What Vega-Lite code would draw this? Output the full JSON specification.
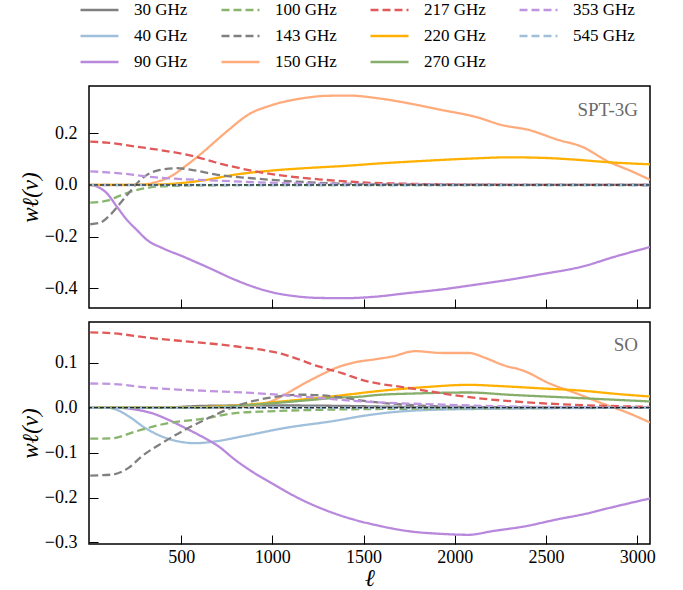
{
  "$schema": "https://vega.github.io/schema/vega-lite/v6.json",
  "padding": {"left": 18, "top": -2, "right": 5, "bottom": 5},
  "spacing": 11,
  "config": {
    "font": "Liberation Serif",
    "view": {"stroke": "black", "strokeWidth": 1.5},
    "axis": {"domain": false, "grid": false, "tickColor": "black", "tickSize": -9, "tickWidth": 1, "labelFont": "Liberation Serif", "labelFontSize": 18, "labelColor": "black", "labelFlush": false, "titleFont": "Liberation Serif", "titleFontWeight": "normal", "titleFontStyle": "italic", "titleColor": "black"},
    "legend": {"labelFont": "Liberation Serif"},
    "text": {"font": "Liberation Serif"}
  },
  "datasets": {
    "spt": [
      {"f":"90 GHz","l":2,"w":0},{"f":"90 GHz","l":38,"w":-0.006},{"f":"90 GHz","l":93,"w":-0.032},{"f":"90 GHz","l":148,"w":-0.084},{"f":"90 GHz","l":203,"w":-0.135},{"f":"90 GHz","l":257,"w":-0.174},{"f":"90 GHz","l":312,"w":-0.212},{"f":"90 GHz","l":400,"w":-0.245},{"f":"90 GHz","l":504,"w":-0.275},{"f":"90 GHz","l":650,"w":-0.32},{"f":"90 GHz","l":796,"w":-0.367},{"f":"90 GHz","l":900,"w":-0.395},{"f":"90 GHz","l":997,"w":-0.415},{"f":"90 GHz","l":1100,"w":-0.428},{"f":"90 GHz","l":1253,"w":-0.437},{"f":"90 GHz","l":1400,"w":-0.438},{"f":"90 GHz","l":1550,"w":-0.433},{"f":"90 GHz","l":1747,"w":-0.418},{"f":"90 GHz","l":1929,"w":-0.404},{"f":"90 GHz","l":2112,"w":-0.386},{"f":"90 GHz","l":2295,"w":-0.367},{"f":"90 GHz","l":2478,"w":-0.345},{"f":"90 GHz","l":2697,"w":-0.316},{"f":"90 GHz","l":2880,"w":-0.277},{"f":"90 GHz","l":3070,"w":-0.240},
      {"f":"150 GHz","l":2,"w":0},{"f":"150 GHz","l":200,"w":0},{"f":"150 GHz","l":300,"w":0.002},{"f":"150 GHz","l":349,"w":0.009},{"f":"150 GHz","l":440,"w":0.032},{"f":"150 GHz","l":531,"w":0.077},{"f":"150 GHz","l":623,"w":0.129},{"f":"150 GHz","l":686,"w":0.168},{"f":"150 GHz","l":760,"w":0.213},{"f":"150 GHz","l":870,"w":0.273},{"f":"150 GHz","l":997,"w":0.309},{"f":"150 GHz","l":1161,"w":0.335},{"f":"150 GHz","l":1300,"w":0.345},{"f":"150 GHz","l":1420,"w":0.346},{"f":"150 GHz","l":1564,"w":0.337},{"f":"150 GHz","l":1747,"w":0.316},{"f":"150 GHz","l":1929,"w":0.290},{"f":"150 GHz","l":2112,"w":0.264},{"f":"150 GHz","l":2258,"w":0.232},{"f":"150 GHz","l":2405,"w":0.213},{"f":"150 GHz","l":2569,"w":0.174},{"f":"150 GHz","l":2697,"w":0.148},{"f":"150 GHz","l":2843,"w":0.090},{"f":"150 GHz","l":2953,"w":0.058},{"f":"150 GHz","l":3070,"w":0.020},
      {"f":"220 GHz","l":2,"w":0},{"f":"220 GHz","l":300,"w":0.001},{"f":"220 GHz","l":440,"w":0.004},{"f":"220 GHz","l":613,"w":0.017},{"f":"220 GHz","l":796,"w":0.040},{"f":"220 GHz","l":1000,"w":0.056},{"f":"220 GHz","l":1200,"w":0.066},{"f":"220 GHz","l":1400,"w":0.074},{"f":"220 GHz","l":1600,"w":0.084},{"f":"220 GHz","l":1747,"w":0.090},{"f":"220 GHz","l":1929,"w":0.097},{"f":"220 GHz","l":2112,"w":0.103},{"f":"220 GHz","l":2295,"w":0.107},{"f":"220 GHz","l":2478,"w":0.105},{"f":"220 GHz","l":2660,"w":0.098},{"f":"220 GHz","l":2843,"w":0.088},{"f":"220 GHz","l":3070,"w":0.080},
      {"f":"100 GHz","l":2,"w":-0.068},{"f":"100 GHz","l":93,"w":-0.061},{"f":"100 GHz","l":166,"w":-0.041},{"f":"100 GHz","l":239,"w":-0.023},{"f":"100 GHz","l":330,"w":-0.009},{"f":"100 GHz","l":440,"w":-0.004},{"f":"100 GHz","l":700,"w":-0.001},{"f":"100 GHz","l":3070,"w":0},
      {"f":"143 GHz","l":2,"w":-0.152},{"f":"143 GHz","l":56,"w":-0.146},{"f":"143 GHz","l":111,"w":-0.116},{"f":"143 GHz","l":166,"w":-0.071},{"f":"143 GHz","l":212,"w":-0.032},{"f":"143 GHz","l":257,"w":0.006},{"f":"143 GHz","l":312,"w":0.039},{"f":"143 GHz","l":385,"w":0.058},{"f":"143 GHz","l":476,"w":0.065},{"f":"143 GHz","l":586,"w":0.055},{"f":"143 GHz","l":686,"w":0.041},{"f":"143 GHz","l":888,"w":0.026},{"f":"143 GHz","l":1070,"w":0.016},{"f":"143 GHz","l":1344,"w":0.006},{"f":"143 GHz","l":1700,"w":0.002},{"f":"143 GHz","l":3070,"w":0},
      {"f":"217 GHz","l":2,"w":0.168},{"f":"217 GHz","l":93,"w":0.164},{"f":"217 GHz","l":257,"w":0.148},{"f":"217 GHz","l":440,"w":0.129},{"f":"217 GHz","l":560,"w":0.113},{"f":"217 GHz","l":686,"w":0.088},{"f":"217 GHz","l":888,"w":0.055},{"f":"217 GHz","l":1070,"w":0.035},{"f":"217 GHz","l":1253,"w":0.022},{"f":"217 GHz","l":1491,"w":0.010},{"f":"217 GHz","l":1800,"w":0.004},{"f":"217 GHz","l":2200,"w":0.001},{"f":"217 GHz","l":3070,"w":0},
      {"f":"353 GHz","l":2,"w":0.053},{"f":"353 GHz","l":166,"w":0.045},{"f":"353 GHz","l":349,"w":0.030},{"f":"353 GHz","l":531,"w":0.022},{"f":"353 GHz","l":686,"w":0.017},{"f":"353 GHz","l":979,"w":0.009},{"f":"353 GHz","l":1300,"w":0.004},{"f":"353 GHz","l":1800,"w":0.001},{"f":"353 GHz","l":3070,"w":0},
      {"f":"545 GHz","l":2,"w":0},{"f":"545 GHz","l":3070,"w":0}
    ],
    "so": [
      {"f":"30 GHz","l":2,"w":0},{"f":"30 GHz","l":350,"w":0},{"f":"30 GHz","l":450,"w":0.001},{"f":"30 GHz","l":600,"w":0.004},{"f":"30 GHz","l":800,"w":0.005},{"f":"30 GHz","l":1100,"w":0.005},{"f":"30 GHz","l":1400,"w":0.004},{"f":"30 GHz","l":1700,"w":0.002},{"f":"30 GHz","l":2000,"w":0.001},{"f":"30 GHz","l":3070,"w":0},
      {"f":"40 GHz","l":2,"w":0},{"f":"40 GHz","l":100,"w":0},{"f":"40 GHz","l":150,"w":-0.005},{"f":"40 GHz","l":212,"w":-0.019},{"f":"40 GHz","l":303,"w":-0.045},{"f":"40 GHz","l":394,"w":-0.064},{"f":"40 GHz","l":486,"w":-0.075},{"f":"40 GHz","l":577,"w":-0.079},{"f":"40 GHz","l":686,"w":-0.075},{"f":"40 GHz","l":833,"w":-0.064},{"f":"40 GHz","l":1070,"w":-0.045},{"f":"40 GHz","l":1344,"w":-0.029},{"f":"40 GHz","l":1500,"w":-0.018},{"f":"40 GHz","l":1655,"w":-0.010},{"f":"40 GHz","l":1929,"w":-0.004},{"f":"40 GHz","l":2295,"w":-0.002},{"f":"40 GHz","l":3070,"w":0},
      {"f":"90 GHz","l":2,"w":0},{"f":"90 GHz","l":150,"w":0},{"f":"90 GHz","l":248,"w":-0.004},{"f":"90 GHz","l":339,"w":-0.012},{"f":"90 GHz","l":431,"w":-0.027},{"f":"90 GHz","l":522,"w":-0.045},{"f":"90 GHz","l":613,"w":-0.064},{"f":"90 GHz","l":705,"w":-0.086},{"f":"90 GHz","l":796,"w":-0.116},{"f":"90 GHz","l":888,"w":-0.142},{"f":"90 GHz","l":979,"w":-0.164},{"f":"90 GHz","l":1161,"w":-0.205},{"f":"90 GHz","l":1344,"w":-0.236},{"f":"90 GHz","l":1491,"w":-0.254},{"f":"90 GHz","l":1564,"w":-0.261},{"f":"90 GHz","l":1747,"w":-0.275},{"f":"90 GHz","l":1929,"w":-0.281},{"f":"90 GHz","l":2076,"w":-0.283},{"f":"90 GHz","l":2204,"w":-0.275},{"f":"90 GHz","l":2386,"w":-0.264},{"f":"90 GHz","l":2569,"w":-0.248},{"f":"90 GHz","l":2697,"w":-0.238},{"f":"90 GHz","l":2880,"w":-0.220},{"f":"90 GHz","l":3070,"w":-0.202},
      {"f":"150 GHz","l":2,"w":0},{"f":"150 GHz","l":750,"w":0},{"f":"150 GHz","l":850,"w":0.003},{"f":"150 GHz","l":979,"w":0.012},{"f":"150 GHz","l":1070,"w":0.030},{"f":"150 GHz","l":1161,"w":0.051},{"f":"150 GHz","l":1260,"w":0.072},{"f":"150 GHz","l":1344,"w":0.088},{"f":"150 GHz","l":1450,"w":0.101},{"f":"150 GHz","l":1564,"w":0.108},{"f":"150 GHz","l":1655,"w":0.114},{"f":"150 GHz","l":1783,"w":0.126},{"f":"150 GHz","l":1929,"w":0.122},{"f":"150 GHz","l":2076,"w":0.122},{"f":"150 GHz","l":2167,"w":0.111},{"f":"150 GHz","l":2258,"w":0.096},{"f":"150 GHz","l":2386,"w":0.081},{"f":"150 GHz","l":2514,"w":0.055},{"f":"150 GHz","l":2660,"w":0.033},{"f":"150 GHz","l":2806,"w":0.010},{"f":"150 GHz","l":2953,"w":-0.012},{"f":"150 GHz","l":3070,"w":-0.033},
      {"f":"220 GHz","l":2,"w":0},{"f":"220 GHz","l":500,"w":0},{"f":"220 GHz","l":650,"w":0.002},{"f":"220 GHz","l":800,"w":0.005},{"f":"220 GHz","l":1052,"w":0.014},{"f":"220 GHz","l":1344,"w":0.026},{"f":"220 GHz","l":1600,"w":0.038},{"f":"220 GHz","l":1838,"w":0.046},{"f":"220 GHz","l":2076,"w":0.051},{"f":"220 GHz","l":2258,"w":0.048},{"f":"220 GHz","l":2478,"w":0.043},{"f":"220 GHz","l":2697,"w":0.038},{"f":"220 GHz","l":2880,"w":0.031},{"f":"220 GHz","l":3070,"w":0.025},
      {"f":"270 GHz","l":2,"w":0},{"f":"270 GHz","l":600,"w":0},{"f":"270 GHz","l":800,"w":0.004},{"f":"270 GHz","l":1000,"w":0.010},{"f":"270 GHz","l":1200,"w":0.017},{"f":"270 GHz","l":1344,"w":0.022},{"f":"270 GHz","l":1491,"w":0.025},{"f":"270 GHz","l":1564,"w":0.028},{"f":"270 GHz","l":1800,"w":0.032},{"f":"270 GHz","l":2076,"w":0.034},{"f":"270 GHz","l":2295,"w":0.029},{"f":"270 GHz","l":2660,"w":0.022},{"f":"270 GHz","l":3070,"w":0.014},
      {"f":"100 GHz","l":2,"w":-0.069},{"f":"100 GHz","l":120,"w":-0.068},{"f":"100 GHz","l":248,"w":-0.053},{"f":"100 GHz","l":431,"w":-0.034},{"f":"100 GHz","l":613,"w":-0.025},{"f":"100 GHz","l":796,"w":-0.012},{"f":"100 GHz","l":979,"w":-0.008},{"f":"100 GHz","l":1344,"w":-0.004},{"f":"100 GHz","l":1800,"w":-0.002},{"f":"100 GHz","l":3070,"w":0},
      {"f":"143 GHz","l":2,"w":-0.151},{"f":"143 GHz","l":120,"w":-0.149},{"f":"143 GHz","l":212,"w":-0.134},{"f":"143 GHz","l":285,"w":-0.108},{"f":"143 GHz","l":394,"w":-0.079},{"f":"143 GHz","l":522,"w":-0.049},{"f":"143 GHz","l":650,"w":-0.023},{"f":"143 GHz","l":796,"w":0.003},{"f":"143 GHz","l":979,"w":0.022},{"f":"143 GHz","l":1161,"w":0.029},{"f":"143 GHz","l":1344,"w":0.025},{"f":"143 GHz","l":1491,"w":0.016},{"f":"143 GHz","l":1655,"w":0.009},{"f":"143 GHz","l":1929,"w":0.003},{"f":"143 GHz","l":2300,"w":0.001},{"f":"143 GHz","l":3070,"w":0},
      {"f":"217 GHz","l":2,"w":0.168},{"f":"217 GHz","l":120,"w":0.166},{"f":"217 GHz","l":339,"w":0.155},{"f":"217 GHz","l":522,"w":0.148},{"f":"217 GHz","l":796,"w":0.137},{"f":"217 GHz","l":1070,"w":0.118},{"f":"217 GHz","l":1253,"w":0.092},{"f":"217 GHz","l":1381,"w":0.077},{"f":"217 GHz","l":1491,"w":0.062},{"f":"217 GHz","l":1747,"w":0.044},{"f":"217 GHz","l":2112,"w":0.022},{"f":"217 GHz","l":2478,"w":0.010},{"f":"217 GHz","l":2843,"w":0.004},{"f":"217 GHz","l":3070,"w":0.002},
      {"f":"353 GHz","l":2,"w":0.054},{"f":"353 GHz","l":120,"w":0.053},{"f":"353 GHz","l":339,"w":0.044},{"f":"353 GHz","l":613,"w":0.038},{"f":"353 GHz","l":888,"w":0.033},{"f":"353 GHz","l":1161,"w":0.025},{"f":"353 GHz","l":1491,"w":0.014},{"f":"353 GHz","l":1929,"w":0.007},{"f":"353 GHz","l":2295,"w":0.003},{"f":"353 GHz","l":2700,"w":0.001},{"f":"353 GHz","l":3070,"w":0},
      {"f":"545 GHz","l":2,"w":0},{"f":"545 GHz","l":3070,"w":0}
    ],
    "labels": [
      {"panel": "SPT-3G", "l": 3004, "w": 0.267},
      {"panel": "SO", "l": 3004, "w": 0.126}
    ],
    "zero": [{"w": 0}]
  },
  "vconcat": [
    {
      "width": 561, "height": 222,
      "layer": [
        {
          "data": {"name": "spt"},
          "mark": {"type": "line", "interpolate": "monotone", "strokeWidth": 2.3, "clip": true},
          "encoding": {
            "x": {"field": "l", "type": "quantitative", "scale": {"domain": [-5, 3070], "nice": false, "zero": false}, "axis": {"values": [500, 1000, 1500, 2000, 2500, 3000], "labels": false, "title": null, "tickSize": -9}},
            "y": {"field": "w", "type": "quantitative", "scale": {"domain": [-0.476, 0.383], "nice": false, "zero": false}, "axis": {"values": [-0.4, -0.2, 0, 0.2], "format": ".1f", "title": "wℓ(ν)", "titleFontSize": 23, "titlePadding": 2, "labelPadding": 21, "tickSize": -9, "labelFont": "Liberation Serif", "labelFontSize": 18, "titleFont": "Liberation Serif"}},
            "color": {"field": "f", "type": "nominal",
              "scale": {"domain": ["30 GHz","40 GHz","90 GHz","100 GHz","143 GHz","150 GHz","217 GHz","220 GHz","270 GHz","353 GHz","545 GHz"], "range": ["#808080","#9fbfdb","#b888dc","#88b46c","#808080","#ffab7c","#e05a5a","#ffb000","#86ae6a","#c095e0","#9fbfdb"]},
              "legend": {"orient": "none", "legendX": -10, "legendY": -88, "columns": 4, "title": null, "symbolType": "stroke", "symbolSize": 1444, "symbolStrokeWidth": 2.5, "labelFont": "Liberation Serif", "labelFontSize": 17, "labelColor": "black", "labelOffset": 14, "columnPadding": 32, "rowPadding": 2, "clipHeight": 24, "padding": 0}},
            "strokeDash": {"field": "f", "type": "nominal",
              "scale": {"domain": ["30 GHz","40 GHz","90 GHz","100 GHz","143 GHz","150 GHz","217 GHz","220 GHz","270 GHz","353 GHz","545 GHz"], "range": [[1,0],[1,0],[1,0],[8,4],[8,4],[1,0],[8,4],[1,0],[1,0],[8,4],[8,4]]},
              "legend": {"orient": "none", "legendX": -10, "legendY": -88, "columns": 4, "title": null, "symbolType": "stroke", "symbolSize": 1444, "symbolStrokeWidth": 2.5, "labelFont": "Liberation Serif", "labelFontSize": 17, "labelColor": "black", "labelOffset": 14, "columnPadding": 32, "rowPadding": 2, "clipHeight": 24, "padding": 0}}
          }
        },
        {
          "data": {"name": "zero"},
          "mark": {"type": "rule", "color": "black", "strokeWidth": 1, "strokeDash": [4, 2]},
          "encoding": {"y": {"field": "w", "type": "quantitative"}}
        },
        {
          "data": {"name": "labels"},
          "transform": [{"filter": "datum.panel === 'SPT-3G'"}],
          "mark": {"type": "text", "align": "right", "baseline": "alphabetic", "font": "Liberation Serif", "fontSize": 19, "color": "#6b6b6b"},
          "encoding": {"x": {"field": "l", "type": "quantitative"}, "y": {"field": "w", "type": "quantitative"}, "text": {"field": "panel"}}
        }
      ]
    },
    {
      "width": 561, "height": 222,
      "layer": [
        {
          "data": {"name": "so"},
          "mark": {"type": "line", "interpolate": "monotone", "strokeWidth": 2.3, "clip": true},
          "encoding": {
            "x": {"field": "l", "type": "quantitative", "scale": {"domain": [-5, 3070], "nice": false, "zero": false}, "axis": {"values": [500, 1000, 1500, 2000, 2500, 3000], "format": "d", "title": "ℓ", "titleFontSize": 24, "labelPadding": 13, "titlePadding": 0, "tickSize": -9, "labelFont": "Liberation Serif", "labelFontSize": 18, "titleFont": "Liberation Serif"}},
            "y": {"field": "w", "type": "quantitative", "scale": {"domain": [-0.3035, 0.191], "nice": false, "zero": false}, "axis": {"values": [-0.3, -0.2, -0.1, 0, 0.1], "format": ".1f", "title": "wℓ(ν)", "titleFontSize": 23, "titlePadding": 2, "labelPadding": 21, "tickSize": -9, "labelFont": "Liberation Serif", "labelFontSize": 18, "titleFont": "Liberation Serif"}},
            "color": {"field": "f", "type": "nominal"},
            "strokeDash": {"field": "f", "type": "nominal"}
          }
        },
        {
          "data": {"name": "zero"},
          "mark": {"type": "rule", "color": "black", "strokeWidth": 1, "strokeDash": [4, 2]},
          "encoding": {"y": {"field": "w", "type": "quantitative"}}
        },
        {
          "data": {"name": "labels"},
          "transform": [{"filter": "datum.panel === 'SO'"}],
          "mark": {"type": "text", "align": "right", "baseline": "alphabetic", "font": "Liberation Serif", "fontSize": 19, "color": "#6b6b6b"},
          "encoding": {"x": {"field": "l", "type": "quantitative"}, "y": {"field": "w", "type": "quantitative"}, "text": {"field": "panel"}}
        }
      ]
    }
  ],
  "resolve": {"scale": {"color": "shared", "strokeDash": "shared", "x": "independent", "y": "independent"}}
}
